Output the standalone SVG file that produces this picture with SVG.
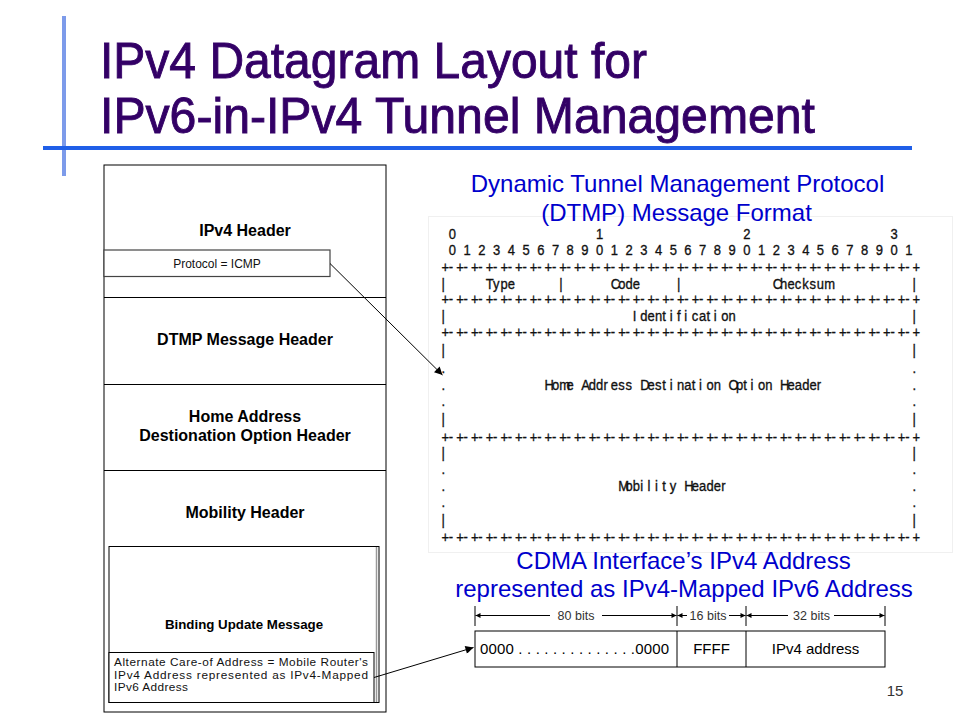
<svg xmlns="http://www.w3.org/2000/svg" width="960" height="720" viewBox="0 0 960 720">
<style>
text{font-family:"Liberation Sans",Arial,sans-serif}
.a{font-size:13px;fill:#111;stroke:#111;stroke-width:0.3}
.b{font-weight:bold;font-size:16px;text-anchor:middle;fill:#000}
.bl{font-size:24px;text-anchor:middle;fill:#0000CC}
.box{fill:#fff;stroke:#000;stroke-width:1}
.ln{stroke:#000;stroke-width:1;fill:none}
.dim{font-size:12.5px;fill:#333;text-anchor:middle}
.bx{font-size:15px;fill:#000}
.ttl{font-size:50px;fill:#330066;stroke:#330066;stroke-width:0.9}
.alt{font-size:11.8px;fill:#111}
</style>
<defs>
<marker id="ah" viewBox="0 0 10 10" refX="10" refY="5" markerWidth="12" markerHeight="8" markerUnits="userSpaceOnUse" orient="auto"><path d="M0,0 L10,5 L0,10 z" fill="#000"/></marker>
<marker id="sm" viewBox="0 0 10 10" refX="10" refY="5" markerWidth="7" markerHeight="5" markerUnits="userSpaceOnUse" orient="auto-start-reverse"><path d="M0,0 L10,5 L0,10 z" fill="#000"/></marker>
</defs>
<rect width="960" height="720" fill="#fff"/>

<g id="title">
<line x1="64" y1="16" x2="64" y2="176" stroke="#7D9BEA" stroke-width="4"/>
<line x1="43" y1="148" x2="912" y2="148" stroke="#1F5FE8" stroke-width="4"/>
<text class="ttl" x="100" y="78" textLength="547" lengthAdjust="spacingAndGlyphs">IPv4 Datagram Layout for</text>
<text class="ttl" x="100" y="133" textLength="715" lengthAdjust="spacingAndGlyphs">IPv6-in-IPv4 Tunnel Management</text>
</g>

<g id="datagram">
<rect class="box" x="104" y="165" width="282" height="547"/>
<line class="ln" x1="104" y1="297.5" x2="386" y2="297.5"/>
<line class="ln" x1="104" y1="384.5" x2="386" y2="384.5"/>
<line class="ln" x1="104" y1="470.5" x2="386" y2="470.5"/>
</g>
<g id="ipv4-header">
<text class="b" x="245" y="236">IPv4 Header</text>
</g>
<g id="protocol">
<rect x="104" y="250" width="226" height="26.5" fill="#fff" stroke="#444" stroke-width="1.2"/>
<text x="217" y="267.5" font-size="12" text-anchor="middle" fill="#111">Protocol = ICMP</text>
</g>
<g id="dtmp-header">
<text class="b" x="245" y="345">DTMP Message Header</text>
</g>
<g id="home-address">
<text class="b" x="245" y="422">Home Address</text>
<text class="b" x="245" y="441">Destionation Option Header</text>
</g>
<g id="mobility-header">
<text class="b" x="245" y="517.5">Mobility Header</text>
</g>
<g id="binding-update">
<rect class="box" x="109" y="546.5" width="270" height="156"/>
<line x1="376.5" y1="547" x2="376.5" y2="702" stroke="#999" stroke-width="1.5"/>
<text x="244" y="628.5" font-weight="bold" font-size="13.3" text-anchor="middle" fill="#000">Binding Update Message</text>
</g>
<g id="alternate-coa">
<rect class="box" x="109" y="652.5" width="265" height="50"/>
<text class="alt" x="114" y="666" textLength="254" lengthAdjust="spacing">Alternate Care-of Address = Mobile Router's</text>
<text class="alt" x="114" y="678.5" textLength="254" lengthAdjust="spacing">IPv4 Address represented as IPv4-Mapped</text>
<text class="alt" x="114" y="691" letter-spacing="0.4">IPv6 Address</text>
</g>

<g id="dtmp-format">
<rect x="428.5" y="216.5" width="524" height="336" fill="none" stroke="#f0f0f0" stroke-width="1"/>
<text class="bl" x="677.5" y="192">Dynamic Tunnel Management Protocol</text>
<text class="bl" x="676.5" y="221">(DTMP) Message Format</text>
<text class="a" transform="translate(0,239) scale(1,1.18)" x="448.86 596.06 743.26 890.46" y="0">0123</text>
<text class="a" transform="translate(0,254.5) scale(1,1.18)" x="448.86 463.58 478.3 493.02 507.74 522.46 537.18 551.9 566.62 581.34 596.06 610.78 625.5 640.22 654.94 669.66 684.38 699.1 713.82 728.54 743.26 757.98 772.7 787.42 802.14 816.86 831.58 846.3 861.02 875.74 890.46 905.18" y="0">01234567890123456789012345678901</text>
<text class="a" transform="translate(0,271.5) scale(1,1.18)" x="441.5 448.86 456.22 463.58 470.94 478.3 485.66 493.02 500.38 507.74 515.1 522.46 529.82 537.18 544.54 551.9 559.26 566.62 573.98 581.34 588.7 596.06 603.42 610.78 618.14 625.5 632.86 640.22 647.58 654.94 662.3 669.66 677.02 684.38 691.74 699.1 706.46 713.82 721.18 728.54 735.9 743.26 750.62 757.98 765.34 772.7 780.06 787.42 794.78 802.14 809.5 816.86 824.22 831.58 838.94 846.3 853.66 861.02 868.38 875.74 883.1 890.46 897.82 905.18 912.54" y="0">+-+-+-+-+-+-+-+-+-+-+-+-+-+-+-+-+-+-+-+-+-+-+-+-+-+-+-+-+-+-+-+-+</text>
<text class="a" transform="translate(0,288.5) scale(1,1.18)" x="441.5 485.66 493.02 500.38 507.74 559.26 610.78 618.14 625.5 632.86 677.02 772.7 780.06 787.42 794.78 802.14 809.5 816.86 824.22 912.54" y="0">|Type|Code|Checksum|</text>
<text class="a" transform="translate(0,304) scale(1,1.18)" x="441.5 448.86 456.22 463.58 470.94 478.3 485.66 493.02 500.38 507.74 515.1 522.46 529.82 537.18 544.54 551.9 559.26 566.62 573.98 581.34 588.7 596.06 603.42 610.78 618.14 625.5 632.86 640.22 647.58 654.94 662.3 669.66 677.02 684.38 691.74 699.1 706.46 713.82 721.18 728.54 735.9 743.26 750.62 757.98 765.34 772.7 780.06 787.42 794.78 802.14 809.5 816.86 824.22 831.58 838.94 846.3 853.66 861.02 868.38 875.74 883.1 890.46 897.82 905.18 912.54" y="0">+-+-+-+-+-+-+-+-+-+-+-+-+-+-+-+-+-+-+-+-+-+-+-+-+-+-+-+-+-+-+-+-+</text>
<text class="a" transform="translate(0,321) scale(1,1.18)" x="441.5 632.86 640.22 647.58 654.94 662.3 669.66 677.02 684.38 691.74 699.1 706.46 713.82 721.18 728.54 912.54" y="0">|Identification|</text>
<text class="a" transform="translate(0,337) scale(1,1.18)" x="441.5 448.86 456.22 463.58 470.94 478.3 485.66 493.02 500.38 507.74 515.1 522.46 529.82 537.18 544.54 551.9 559.26 566.62 573.98 581.34 588.7 596.06 603.42 610.78 618.14 625.5 632.86 640.22 647.58 654.94 662.3 669.66 677.02 684.38 691.74 699.1 706.46 713.82 721.18 728.54 735.9 743.26 750.62 757.98 765.34 772.7 780.06 787.42 794.78 802.14 809.5 816.86 824.22 831.58 838.94 846.3 853.66 861.02 868.38 875.74 883.1 890.46 897.82 905.18 912.54" y="0">+-+-+-+-+-+-+-+-+-+-+-+-+-+-+-+-+-+-+-+-+-+-+-+-+-+-+-+-+-+-+-+-+</text>
<text class="a" transform="translate(0,355) scale(1,1.18)" x="441.5 912.54" y="0">||</text>
<text class="a" transform="translate(0,372.5) scale(1,1.18)" x="441.5 912.54" y="0">..</text>
<text class="a" transform="translate(0,389.5) scale(1,1.18)" x="441.5 544.54 551.9 559.26 566.62 573.98 581.34 588.7 596.06 603.42 610.78 618.14 625.5 632.86 640.22 647.58 654.94 662.3 669.66 677.02 684.38 691.74 699.1 706.46 713.82 721.18 728.54 735.9 743.26 750.62 757.98 765.34 772.7 780.06 787.42 794.78 802.14 809.5 816.86 912.54" y="0">.Home Address Destination Option Header.</text>
<text class="a" transform="translate(0,406) scale(1,1.18)" x="441.5 912.54" y="0">..</text>
<text class="a" transform="translate(0,424) scale(1,1.18)" x="441.5 912.54" y="0">||</text>
<text class="a" transform="translate(0,441.5) scale(1,1.18)" x="441.5 448.86 456.22 463.58 470.94 478.3 485.66 493.02 500.38 507.74 515.1 522.46 529.82 537.18 544.54 551.9 559.26 566.62 573.98 581.34 588.7 596.06 603.42 610.78 618.14 625.5 632.86 640.22 647.58 654.94 662.3 669.66 677.02 684.38 691.74 699.1 706.46 713.82 721.18 728.54 735.9 743.26 750.62 757.98 765.34 772.7 780.06 787.42 794.78 802.14 809.5 816.86 824.22 831.58 838.94 846.3 853.66 861.02 868.38 875.74 883.1 890.46 897.82 905.18 912.54" y="0">+-+-+-+-+-+-+-+-+-+-+-+-+-+-+-+-+-+-+-+-+-+-+-+-+-+-+-+-+-+-+-+-+</text>
<text class="a" transform="translate(0,457.5) scale(1,1.18)" x="441.5 912.54" y="0">||</text>
<text class="a" transform="translate(0,474) scale(1,1.18)" x="441.5 912.54" y="0">..</text>
<text class="a" transform="translate(0,490.5) scale(1,1.18)" x="441.5 618.14 625.5 632.86 640.22 647.58 654.94 662.3 669.66 677.02 684.38 691.74 699.1 706.46 713.82 721.18 912.54" y="0">.Mobility Header.</text>
<text class="a" transform="translate(0,507) scale(1,1.18)" x="441.5 912.54" y="0">..</text>
<text class="a" transform="translate(0,524.5) scale(1,1.18)" x="441.5 912.54" y="0">||</text>
<text class="a" transform="translate(0,541.5) scale(1,1.18)" x="441.5 448.86 456.22 463.58 470.94 478.3 485.66 493.02 500.38 507.74 515.1 522.46 529.82 537.18 544.54 551.9 559.26 566.62 573.98 581.34 588.7 596.06 603.42 610.78 618.14 625.5 632.86 640.22 647.58 654.94 662.3 669.66 677.02 684.38 691.74 699.1 706.46 713.82 721.18 728.54 735.9 743.26 750.62 757.98 765.34 772.7 780.06 787.42 794.78 802.14 809.5 816.86 824.22 831.58 838.94 846.3 853.66 861.02 868.38 875.74 883.1 890.46 897.82 905.18 912.54" y="0">+-+-+-+-+-+-+-+-+-+-+-+-+-+-+-+-+-+-+-+-+-+-+-+-+-+-+-+-+-+-+-+-+</text>
</g>

<g id="mapped-address">
<text class="bl" x="683.5" y="569">CDMA Interface’s IPv4 Address</text>
<text class="bl" x="684" y="597">represented as IPv4-Mapped IPv6 Address</text>
<line class="ln" x1="475" y1="606" x2="475" y2="626"/>
<line class="ln" x1="677" y1="606" x2="677" y2="626"/>
<line class="ln" x1="746" y1="606" x2="746" y2="626"/>
<line class="ln" x1="885" y1="606" x2="885" y2="626"/>
<line class="ln" x1="550" y1="615.5" x2="475.5" y2="615.5" marker-end="url(#sm)"/>
<line class="ln" x1="602" y1="615.5" x2="676.5" y2="615.5" marker-end="url(#sm)"/>
<line class="ln" x1="687" y1="615.5" x2="677.5" y2="615.5" marker-end="url(#sm)"/>
<line class="ln" x1="729" y1="615.5" x2="745.5" y2="615.5" marker-end="url(#sm)"/>
<line class="ln" x1="788" y1="615.5" x2="746.5" y2="615.5" marker-end="url(#sm)"/>
<line class="ln" x1="834" y1="615.5" x2="884.5" y2="615.5" marker-end="url(#sm)"/>
<text class="dim" x="576" y="620">80 bits</text>
<text class="dim" x="708" y="620">16 bits</text>
<text class="dim" x="811.5" y="620">32 bits</text>
<rect class="box" x="475" y="631" width="410" height="36"/>
<line class="ln" x1="677" y1="631" x2="677" y2="667"/>
<line class="ln" x1="746" y1="631" x2="746" y2="667"/>
<text class="bx" x="480" y="654" textLength="189" lengthAdjust="spacing">0000  . . . . . . . . . . . . . .0000</text>
<text class="bx" x="711.5" y="654" text-anchor="middle">FFFF</text>
<text class="bx" x="815.5" y="654" text-anchor="middle">IPv4 address</text>
</g>

<g id="connectors">
<line class="ln" x1="330" y1="263.5" x2="442.5" y2="375" marker-end="url(#ah)"/>
<line class="ln" x1="374" y1="677.5" x2="473.5" y2="647.5" marker-end="url(#ah)"/>
</g>

<g id="page-number">
<text x="895" y="696" font-size="15" fill="#333" text-anchor="middle">15</text>
</g>
</svg>
